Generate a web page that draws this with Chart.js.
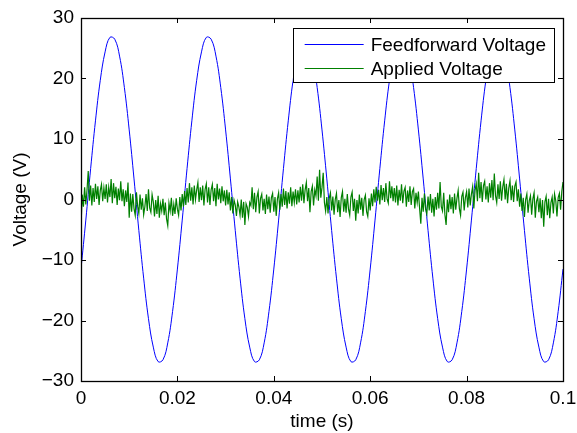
<!DOCTYPE html>
<html>
<head>
<meta charset="utf-8">
<script src="https://cdn.jsdelivr.net/npm/chart.js@4.4.1/dist/chart.umd.min.js"></script>
<style>
  html, body { margin: 0; padding: 0; background: #fff; }
  #wrap { width: 577px; height: 433px; }
</style>
</head>
<body>
<div id="wrap"><canvas id="voltage-canvas" width="577" height="433"></canvas></div>
<script>
// sample spacing of each recorded signal (s)
var feedforwardStep = 0.001;
var appliedStep = 0.00025;

// feedforward voltage, 50 Hz, one sample per ms
var feedforwardVoltage = [
    -11.5, -3.4, 5.1, 13.0, 19.7, 24.4, 26.8, 26.5, 23.7, 18.5, 11.5, 3.4, -5.1, -13.0, -19.7, -24.4, -26.8, -26.5, -23.7, -18.5,
    -11.5, -3.4, 5.1, 13.0, 19.7, 24.4, 26.8, 26.5, 23.7, 18.5, 11.5, 3.4, -5.1, -13.0, -19.7, -24.4, -26.8, -26.5, -23.7, -18.5,
    -11.5, -3.4, 5.1, 13.0, 19.7, 24.4, 26.8, 26.5, 23.7, 18.5, 11.5, 3.4, -5.1, -13.0, -19.7, -24.4, -26.8, -26.5, -23.7, -18.5,
    -11.5, -3.4, 5.1, 13.0, 19.7, 24.4, 26.8, 26.5, 23.7, 18.5, 11.5, 3.4, -5.1, -13.0, -19.7, -24.4, -26.8, -26.5, -23.7, -18.5,
    -11.5, -3.4, 5.1, 13.0, 19.7, 24.4, 26.8, 26.5, 23.7, 18.5, 11.5, 3.4, -5.1, -13.0, -19.7, -24.4, -26.8, -26.5, -23.7, -18.5,
    -11.5
];

// measured applied voltage, one row per 5 ms
var appliedVoltage = [
    -4.5, 0.8, -1.2, 2.0, -0.8, 1.6, 4.7, -0.2, 2.3, -1.0, 1.9, -0.4, 2.6, 0.1, 2.2, -0.9, 1.5, 2.5, -0.3, 1.9,
    0.1, 2.5, -0.5, 2.0, 0.4, 3.4, -0.6, 2.7, 0.2, 2.1, -0.9, 1.8, -0.1, 3.0, -0.3, 1.7, -1.1, 1.5, -0.4, 2.8,
    -3.0, 1.0, -2.0, 0.9, -1.5, -2.6, 1.2, -1.1, -2.3, 0.8, -1.7, 0.2, -2.5, -1.2, 0.9, -1.9, 1.7, -1.4, -2.1, 0.8,
    -0.4, -2.8, -0.1, -2.4, 0.6, -3.0, -0.7, -1.9, 0.1, -2.6, -0.5, -3.2, -4.3, -0.6, -1.9, 0.3, -2.7, -0.8, -2.4, 0.2,
    -1.6, -2.6, 0.4, -1.8, 0.9, -1.2, 1.4, -0.9, 1.9, -0.5, 2.7, -0.2, 2.0, -0.8, 2.3, 0.0, 1.6, 2.8, -0.4, 2.0,
    -0.1, 2.3, -1.0, 1.7, 2.6, -0.5, 2.0, -0.9, 1.6, 2.5, -0.3, 1.9, -1.1, 2.6, 0.0, 1.8, -0.6, 2.2, -0.3, 1.5,
    -1.0, 1.6, -0.8, 1.2, -1.8, 0.4, -2.3, -0.1, -0.9, -2.7, -0.4, -1.2, -2.6, 0.0, -3.0, -0.4, -4.2, -0.7, -1.3, -2.8,
    -0.5, -1.0, 2.0, -1.6, 1.1, -2.1, 0.4, 1.3, -2.3, 0.2, 0.9, -1.8, 0.1, -2.4, 0.8, -1.6, 0.5, -2.2, 0.3, 1.0,
    -2.0, 0.4, -2.7, 0.1, 1.1, -1.7, 0.9, -1.2, 1.8, -0.9, 1.4, -1.5, 1.2, -0.7, 2.0, -1.1, 1.3, -0.5, 1.7, -0.8,
    1.5, -0.5, 2.1, -0.2, 2.5, -0.6, 1.6, 2.8, -0.3, 1.9, -2.1, 1.3, 2.2, -1.0, 1.6, 0.6, 3.8, -0.2, 4.9, 0.3,
    2.0, 4.4, -0.5, -1.9, 0.4, -2.3, 0.2, 1.1, -1.8, 0.5, -2.5, 0.0, 1.0, -2.1, -0.1, -2.9, 0.3, 1.3, -2.0, 0.1,
    -2.2, 0.9, -1.6, -2.6, 0.4, 1.2, -1.9, 0.1, -3.5, -0.1, -2.3, 0.8, -1.7, 0.3, -2.7, 0.0, 0.7, -2.0, -2.8, 0.2,
    -1.8, 1.0, -1.1, 1.7, -0.5, 2.1, -0.2, 1.6, -0.8, 2.4, -0.1, 1.9, -0.4, 2.7, 0.1, -0.6, 3.0, 0.2, 2.2, -0.3,
    1.9, -0.5, 2.3, -1.0, 1.6, -0.2, 2.5, -0.6, 1.4, 2.0, -1.2, 1.5, -0.4, 2.2, -0.9, 1.3, 1.8, -1.5, 1.1, -0.5,
    1.3, -1.5, -4.0, 0.3, -2.0, 1.0, -1.6, -2.4, 0.5, -1.8, 0.9, -2.2, 0.1, -2.8, 0.4, -1.7, 1.1, -1.5, 2.9, -1.2,
    -1.9, 1.1, -2.5, -4.2, 0.0, -2.1, 0.8, -1.6, 0.4, -2.3, 1.0, -1.7, 0.2, 1.5, -1.5, -2.6, 0.5, 1.2, -1.8, 0.3,
    1.3, -1.3, 1.8, -1.0, 0.9, 2.1, -1.5, 1.5, 2.6, -0.3, 4.4, 0.2, 2.9, -0.4, 2.3, 3.0, 0.0, 2.2, -0.5, 2.7,
    0.3, 3.2, -0.1, 4.3, 0.6, -0.5, 2.5, 0.1, 3.0, -0.2, 2.1, 3.3, 0.0, 2.6, -0.6, 1.9, 3.1, -0.1, 2.3, -0.4,
    2.2, 2.9, -0.3, 1.7, -1.2, 1.0, -1.9, 0.3, -2.9, 0.0, 0.9, -2.2, -0.2, 0.6, -2.5, 0.1, 1.1, -3.0, -0.3, 0.4,
    -2.1, 0.2, -3.1, -0.1, -4.5, -0.4, 0.5, -2.6, 0.1, -3.1, -0.5, 0.4, -2.3, 0.9, -0.2, -2.8, 0.3, 1.0, -1.7, 1.3,
    2.9
];

var seriesLabels = ['Feedforward Voltage', 'Applied Voltage'];
var xTitle = 'time (s)';
var yTitle = 'Voltage (V)';

var fontFamily = '"Liberation Sans", Arial, Helvetica, sans-serif';
var fontSize = 19;

function toPoints(values, step) {
    return values.map(function (v, i) {
        return { x: i * step, y: v };
    });
}

// matlab style box with inward ticks on all four sides
var axesBox = {
    id: 'axesBox',
    afterDatasetsDraw: function (chart) {
        var ctx = chart.ctx;
        var a = chart.chartArea;
        var xs = chart.scales.x;
        var ys = chart.scales.y;
        var len = 5;
        ctx.save();
        ctx.strokeStyle = '#000';
        ctx.lineWidth = 1;
        ctx.beginPath();
        xs.ticks.forEach(function (t) {
            var px = Math.round(xs.getPixelForValue(t.value)) + 0.5;
            ctx.moveTo(px, a.bottom);
            ctx.lineTo(px, a.bottom - len);
            ctx.moveTo(px, a.top);
            ctx.lineTo(px, a.top + len);
        });
        ys.ticks.forEach(function (t) {
            var py = Math.round(ys.getPixelForValue(t.value)) + 0.5;
            ctx.moveTo(a.left, py);
            ctx.lineTo(a.left + len, py);
            ctx.moveTo(a.right, py);
            ctx.lineTo(a.right - len, py);
        });
        ctx.stroke();
        ctx.lineWidth = 1.3;
        ctx.strokeRect(Math.round(a.left) + 0.5, Math.round(a.top) + 0.5,
            Math.round(a.right - a.left), Math.round(a.bottom - a.top));
        ctx.restore();
    }
};

// legend box in the upper right corner, drawn over the lines
var boxLegend = {
    id: 'boxLegend',
    afterDraw: function (chart) {
        var ctx = chart.ctx;
        var a = chart.chartArea;
        var sets = chart.data.datasets;
        var boxRight = a.right - 9;
        var boxTop = a.top + 10;
        var rowH = 24.5;
        var lineLen = 59;
        ctx.save();
        ctx.font = fontSize + 'px ' + fontFamily;
        var textW = 0;
        sets.forEach(function (ds) {
            textW = Math.max(textW, ctx.measureText(ds.label).width);
        });
        var boxW = 12 + lineLen + 7 + textW + 8;
        var boxH = 54;
        var boxLeft = boxRight - boxW;
        ctx.fillStyle = '#fff';
        ctx.fillRect(boxLeft, boxTop, boxW, boxH);
        ctx.strokeStyle = '#000';
        ctx.lineWidth = 1;
        ctx.strokeRect(Math.round(boxLeft) + 0.5, Math.round(boxTop) + 0.5, Math.round(boxW), boxH);
        ctx.textBaseline = 'middle';
        ctx.textAlign = 'left';
        sets.forEach(function (ds, i) {
            var cy = Math.round(boxTop + 15.5 + i * rowH) + 0.5;
            ctx.strokeStyle = ds.borderColor;
            ctx.beginPath();
            ctx.moveTo(boxLeft + 12, cy);
            ctx.lineTo(boxLeft + 12 + lineLen, cy);
            ctx.stroke();
            ctx.fillStyle = '#000';
            ctx.fillText(ds.label, boxLeft + 12 + lineLen + 7, cy + 1);
        });
        ctx.restore();
    }
};

function plotarVoltagem() {
    var canvas = document.getElementById('voltage-canvas').getContext('2d');

    new Chart(canvas, {
        type: 'line',
        data: {
            datasets: [
                {
                    label: seriesLabels[0],
                    data: toPoints(feedforwardVoltage, feedforwardStep),
                    borderColor: '#0000ff',
                    borderWidth: 1,
                    pointRadius: 0,
                    tension: 0.4,
                    fill: false,
                    order: 1
                },
                {
                    label: seriesLabels[1],
                    data: toPoints(appliedVoltage, appliedStep),
                    borderColor: '#008000',
                    borderWidth: 1.2,
                    pointRadius: 0,
                    tension: 0,
                    fill: false,
                    order: 0
                }
            ]
        },
        options: {
            responsive: false,
            animation: false,
            events: [],
            layout: {
                padding: { left: 0, right: 14, top: 18, bottom: 0 }
            },
            scales: {
                x: {
                    type: 'linear',
                    min: 0,
                    max: 0.1,
                    grid: { display: false, drawTicks: false },
                    border: { display: false },
                    ticks: {
                        stepSize: 0.02,
                        padding: 6,
                        color: '#000',
                        maxRotation: 0,
                        font: { family: fontFamily, size: fontSize },
                        callback: function (v) {
                            return String(+v.toFixed(2));
                        }
                    },
                    title: {
                        display: true,
                        text: xTitle,
                        color: '#000',
                        padding: { top: 0, bottom: 0 },
                        font: { family: fontFamily, size: fontSize }
                    },
                    afterFit: function (s) {
                        s.height = 52;
                        s.paddingLeft = 0;
                        s.paddingRight = 0;
                    }
                },
                y: {
                    min: -30,
                    max: 30,
                    grid: { display: false, drawTicks: false },
                    border: { display: false },
                    ticks: {
                        stepSize: 10,
                        padding: 7,
                        color: '#000',
                        font: { family: fontFamily, size: fontSize },
                        callback: function (v) {
                            return String(v).replace('-', '\u2212');
                        }
                    },
                    title: {
                        display: true,
                        text: yTitle,
                        color: '#000',
                        padding: { top: 9, bottom: 0 },
                        font: { family: fontFamily, size: fontSize }
                    },
                    afterFit: function (s) {
                        s.width = 81;
                        s.paddingTop = 0;
                        s.paddingBottom = 0;
                    }
                }
            },
            plugins: {
                legend: { display: false },
                tooltip: { enabled: false }
            }
        },
        plugins: [axesBox, boxLegend]
    });
}

plotarVoltagem();
</script>
</body>
</html>
